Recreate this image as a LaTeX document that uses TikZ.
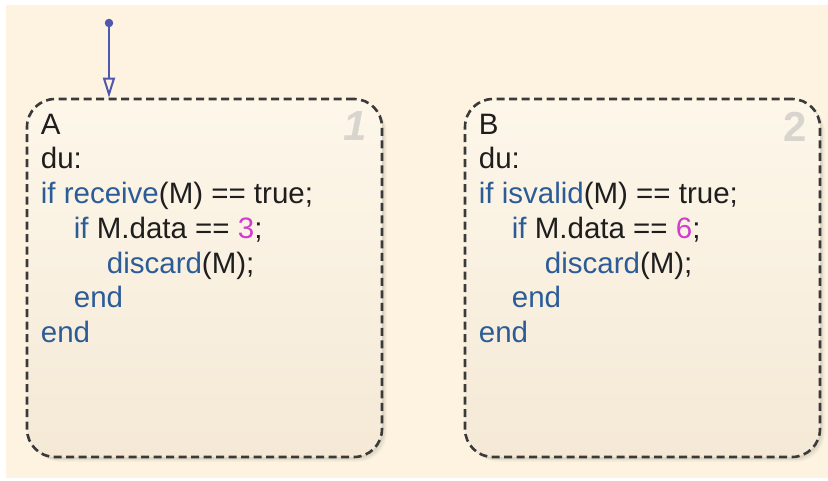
\documentclass[tikz,border=0pt]{standalone}
\usepackage{fontspec}
\setmainfont{Liberation Sans}
\usepackage{xcolor}
\usetikzlibrary{arrows.meta,positioning,shadows}
\definecolor{chartbg}{HTML}{FDF3E0}
\definecolor{boxtop}{HTML}{FDF7EA}
\definecolor{boxbottom}{HTML}{F5E9D6}
\definecolor{boxline}{HTML}{3A3A3A}
\definecolor{codeblack}{HTML}{1E1E1E}
\definecolor{codeblue}{HTML}{2C5C98}
\definecolor{codemagenta}{HTML}{D23CCF}
\definecolor{numgrey}{HTML}{D8D5CF}
\definecolor{initblue}{HTML}{4F58AE}
\newcommand{\kw}[1]{\textcolor{codeblue}{#1}}
\newcommand{\numlit}[1]{\textcolor{codemagenta}{#1}}

\begin{document}
\begin{tikzpicture}[
        x=1pt,y=-1pt,
        statebox/.style={
            draw=boxline,
            line width=2.6pt,
            dash pattern=on 8pt off 4.5pt,
            rounded corners=28pt,
            minimum width=355pt,
            minimum height=358pt,
            inner sep=0pt,
            top color=boxtop,
            bottom color=boxbottom,
            general shadow={fill=black,opacity=0.05,shadow xshift=1.5pt,shadow yshift=-1.5pt},
            general shadow={fill=black,opacity=0.05,shadow xshift=3pt,shadow yshift=-3pt},
            general shadow={fill=black,opacity=0.04,shadow xshift=4.5pt,shadow yshift=-4.5pt}
        },
        code/.style={anchor=north west,inner sep=0pt,align=left,text=codeblack,
            font=\fontsize{29.5}{34.7}\selectfont},
        statenum/.style={anchor=north east,inner sep=0pt,text=numgrey,
            font=\fontsize{42}{42}\selectfont\bfseries},
        initdot/.style={circle,fill=initblue,inner sep=0pt,minimum size=8.5pt},
        initarrow/.style={-{Triangle[open,length=20pt,width=12pt]},line width=2pt,initblue}
    ]
        \useasboundingbox (0,0) rectangle (828,480);
        \fill[white] (0,0) rectangle (828,480);
        \fill[chartbg] (6,5) rectangle (828,478);

        \node[statebox] (boxA) at (204.5,278) {};
        \node[statebox] (boxB) at (642.5,278) {};

        \node[statenum,font=\fontsize{42}{42}\selectfont\bfseries\itshape] (numA) at ([shift={(-16pt,-14pt)}]boxA.north east) {1};
        \node[statenum] (numB) at ([shift={(-14pt,-14pt)}]boxB.north east) {2};

        \node[code] (codeA) at ([shift={(15pt,-16pt)}]boxA.north west)
            {A\\du:\\\kw{if receive}(M) == true;\\\hspace*{33pt}\kw{if} M.data == \numlit{3};\\
             \hspace*{66pt}\kw{discard}(M);\\\hspace*{33pt}\kw{end}\\\kw{end}};
        \node[code] (codeB) at ([shift={(15pt,-16pt)}]boxB.north west)
            {B\\du:\\\kw{if isvalid}(M) == true;\\\hspace*{33pt}\kw{if} M.data == \numlit{6};\\
             \hspace*{66pt}\kw{discard}(M);\\\hspace*{33pt}\kw{end}\\\kw{end}};

        \node[initdot] (init) at (109,23) {};
        \draw[initarrow] (init) -- (init |- boxA.north);
    \end{tikzpicture}
\end{document}
